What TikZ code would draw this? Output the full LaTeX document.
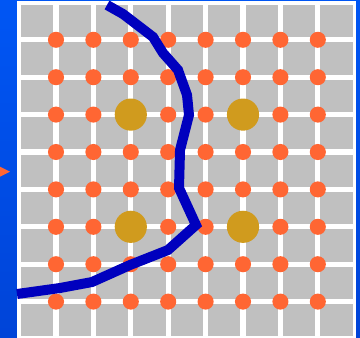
\documentclass[tikz,border=0pt]{standalone}
\usetikzlibrary{positioning}

\definecolor{boardblue}{RGB}{0,86,244}
\definecolor{boardbluedark}{RGB}{0,68,216}
\definecolor{cellgray}{RGB}{192,192,192}
\definecolor{dotorange}{RGB}{255,102,51}
\definecolor{stonegold}{RGB}{208,155,30}
\definecolor{pathblue}{RGB}{0,0,190}

\begin{document}
\begin{tikzpicture}[dot/.style={circle, fill=dotorange, inner sep=0pt, minimum size=4.3mm},
    stone/.style={circle, fill=stonegold, inner sep=0pt, minimum size=8.6mm}]
    \useasboundingbox (-0.497,0.053) rectangle (9.128,9.064);
    \shade[top color=boardblue, bottom color=boardbluedark] (-0.497,0.053) rectangle (9.128,9.064);

    \fill[white] (-0.043,-0.2) rectangle (9.02,9.037);
    \foreach \i in {0,...,8}
        \foreach \j in {-1,...,8}
            \fill[cellgray] (\i+0.071,\j+0.071) rectangle (\i+0.929,\j+0.929);

    \foreach \i in {1,...,8}
        \foreach \j in {1,...,8}
            \node[dot] (d\i\j) at (\i,\j) {};

    \node[stone] (s1) at (3,6) {};
    \node[stone] (s2) at (6,6) {};
    \node[stone] (s3) at (3,3) {};
    \node[stone] (s4) at (6,3) {};

    \fill[dotorange] (-0.497,4.607) -- (-0.230,4.473) -- (-0.497,4.339) -- cycle;

    \draw[pathblue, line width=2.67mm] (2.364,8.930) -- (2.791,8.690) -- (3.594,8.075) -- (3.861,7.647)
        -- (4.262,7.193) -- (4.503,6.524) -- (4.556,5.989) -- (4.316,5.053) -- (4.289,4.037)
        -- (4.743,3.048) -- (3.995,2.380) -- (2.979,1.979) -- (1.963,1.524) -- (1.107,1.364) -- (-0.043,1.203);
  \end{tikzpicture}
\end{document}
